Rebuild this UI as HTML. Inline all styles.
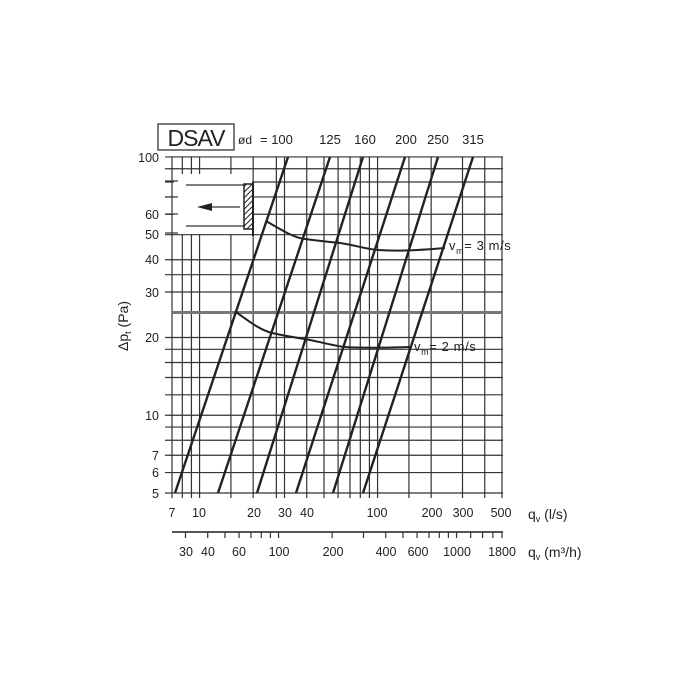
<!DOCTYPE html><html><head><style>body{margin:0;background:#fff}svg{display:block}text{font-family:"Liberation Sans",sans-serif;fill:#222}</style></head><body>
<svg width="685" height="685" viewBox="0 0 685 685" xmlns="http://www.w3.org/2000/svg">
<defs><pattern id="h" width="4" height="4" patternUnits="userSpaceOnUse" patternTransform="rotate(45)"><line x1="0" y1="0" x2="0" y2="4" stroke="#222" stroke-width="2"/></pattern></defs>
<g id="grid" stroke="#333" stroke-width="1.2"></g>
<rect x="174" y="174" width="78" height="60" fill="#fff"/>
<g stroke="#333" stroke-width="1.2">
<line x1="165" y1="181" x2="178" y2="181"/><line x1="165" y1="197" x2="178" y2="197"/><line x1="165" y1="214" x2="178" y2="214"/><line x1="165" y1="233" x2="178" y2="233"/>
<line x1="186" y1="185" x2="245" y2="185"/><line x1="186" y1="226" x2="245" y2="226"/>
<line x1="205" y1="207" x2="240" y2="207"/>
</g>
<polygon points="197,207 212,203 212,211" fill="#222"/>
<rect x="244" y="184" width="9" height="45" fill="url(#h)" stroke="#222" stroke-width="1.5"/>
<line x1="253" y1="182" x2="253" y2="236" stroke="#222" stroke-width="2"/>
<g id="dl" stroke="#222" stroke-width="2.4" fill="none"></g>
<g stroke="#222" stroke-width="2" fill="none">
<path d="M266,221 C285,232 295,238 305,239 C320,241 330,242 340,243 C355,245 365,249 378,250 C395,251 410,251 445,248"/>
<path d="M236,312 C250,322 260,330 272,333 C290,337 300,338 310,340 C325,343 335,346 345,347 C360,348 380,348 410,347"/>
</g>
<rect x="158" y="124" width="76" height="26" fill="#fff" stroke="#222" stroke-width="1.2"/>
<text x="196" y="146" font-size="23" text-anchor="middle" style="letter-spacing:-1px">DSAV</text>
<text x="238" y="144" font-size="12">ød</text>
<text x="260" y="144" font-size="13">= 100</text>
<g font-size="13" text-anchor="middle"><text x="330" y="144">125</text><text x="365" y="144">160</text><text x="406" y="144">200</text><text x="438" y="144">250</text><text x="473" y="144">315</text></g>
<g font-size="12.5" text-anchor="end"><text x="159" y="162">100</text><text x="159" y="219">60</text><text x="159" y="239">50</text><text x="159" y="264">40</text><text x="159" y="297">30</text><text x="159" y="342">20</text><text x="159" y="420">10</text><text x="159" y="460">7</text><text x="159" y="477">6</text><text x="159" y="498">5</text></g>
<text transform="translate(128,326) rotate(-90)" font-size="14" text-anchor="middle">Δp<tspan font-size="9" dy="3">t</tspan><tspan dy="-3"> (Pa)</tspan></text>
<g font-size="12.5" text-anchor="middle"><text x="172" y="517">7</text><text x="199" y="517">10</text><text x="254" y="517">20</text><text x="285" y="517">30</text><text x="307" y="517">40</text><text x="377" y="517">100</text><text x="432" y="517">200</text><text x="463" y="517">300</text><text x="501" y="517">500</text></g>
<text x="528" y="519" font-size="14">q<tspan font-size="9" dy="3">v</tspan><tspan dy="-3"> (l/s)</tspan></text>
<text x="528" y="557" font-size="14">q<tspan font-size="9" dy="3">v</tspan><tspan dy="-3"> (m³/h)</tspan></text>
<g font-size="12.5" text-anchor="middle"><text x="186" y="556">30</text><text x="208" y="556">40</text><text x="239" y="556">60</text><text x="279" y="556">100</text><text x="333" y="556">200</text><text x="386" y="556">400</text><text x="418" y="556">600</text><text x="457" y="556">1000</text><text x="502" y="556">1800</text></g>
<text x="449" y="250" font-size="13" style="letter-spacing:0.6px">v<tspan font-size="9" dy="4">m</tspan><tspan dy="-4">=  3  m/s</tspan></text>
<text x="414" y="351" font-size="13" style="letter-spacing:0.6px">v<tspan font-size="9" dy="4">m</tspan><tspan dy="-4">=  2  m/s</tspan></text>
<g id="m3" stroke="#333" stroke-width="1.2"></g>
<script>
var ns="http://www.w3.org/2000/svg";
function X(q){return 172+178*Math.log10(q/7);}
function Y(v){return 493-258.3*Math.log10(v/5);}
function L(g,x1,y1,x2,y2,c,w){var l=document.createElementNS(ns,"line");l.setAttribute("x1",x1);l.setAttribute("y1",y1);l.setAttribute("x2",x2);l.setAttribute("y2",y2);if(c)l.setAttribute("stroke",c);if(w)l.setAttribute("stroke-width",w);g.appendChild(l);}
var g=document.getElementById("grid");
[7,8,9,10,15,20,27,30,40,50,60,70,80,90,100,150,200,300,400,500].forEach(function(q){L(g,X(q),157,X(q),498);});
[5,6,7,8,9,10,12,14,16,18,20,30,35,40,50,60,70,80,90,100].forEach(function(v){L(g,165,Y(v),503,Y(v));});
L(g,172,Y(25),503,Y(25),"#777",3);
var d=document.getElementById("dl");
[[175,288],[218,330],[257,363],[296,405],[333,438],[363,473]].forEach(function(p){L(d,p[0],493,p[1],157);});
var m=document.getElementById("m3");
L(m,172,532,503,532,"#555",2);
[30,40,50,60,70,80,90,100,200,300,400,500,600,700,800,900,1000,1200,1400,1600,1800].forEach(function(v){var x=172+178*Math.log10(v/25.2);L(m,x,532,x,538);});
</script>
</svg></body></html>
